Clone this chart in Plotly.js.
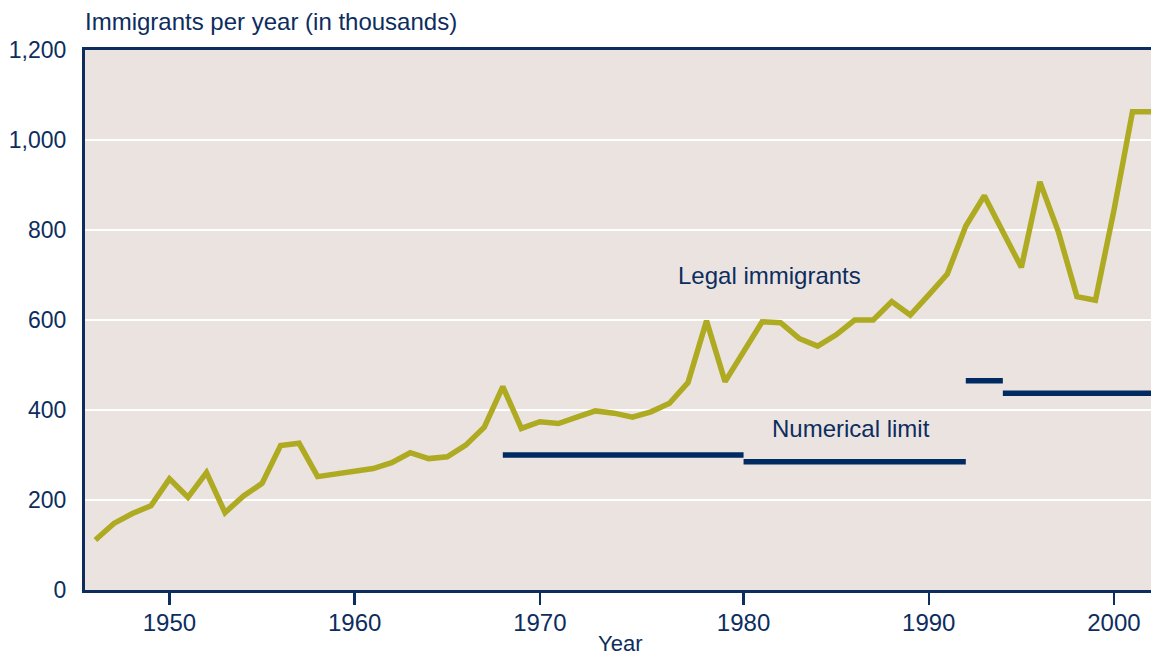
<!DOCTYPE html>
<html>
<head>
<meta charset="utf-8">
<script src="https://cdn.plot.ly/plotly-3.0.1.min.js"></script>
<style>
  html, body { margin: 0; padding: 0; background: #ffffff; }
  #chart { width: 1151px; height: 656px; }
</style>
</head>
<body>
<div id="chart"></div>
<script>
// Year slots along the x axis (the chart has one extra slot between 1976 and 1977)
const years = ["1946","1947","1948","1949","1950","1951","1952","1953","1954","1955",
  "1956","1957","1958","1959","1960","1961","1962","1963","1964","1965",
  "1966","1967","1968","1969","1970","1971","1972","1973","1974","1975",
  "1976","1976TQ","1977","1978","1979","1980","1981","1982","1983","1984",
  "1985","1986","1987","1988","1989","1990","1991","1992","1993","1994",
  "1995","1996","1997","1998","1999","2000","2001","2002"];

// Legal immigrants per year (thousands)
const legalImmigrants = [111,148,170,187,247,206,261,172,209,237,
  321,326,252,259,265,270,283,305,292,296,
  322,362,452,359,374,370,384,398,393,384,
  396,415,461,598,463,530,596,594,559,542,
  567,600,600,641,611,656,702,809,876,796,
  717,907,796,652,644,844,1063,1063];

// Numerical limit periods (thousands)
const limitStart = ["1968","1980","1992","1994"];
const limitEnd   = ["1980","1992","1994","2002"];
const limitValue = [300,285,465,437];

const tickYears = ["1950","1960","1970","1980","1990","2000"];
const yTicks = [0,200,400,600,800,1000,1200];

const navy = "#0c2d5e";
const olive = "#aeaa22";

const traces = [];
for (let i = 0; i < limitStart.length; i++) {
  traces.push({
    type: "scatter", mode: "lines",
    x: [limitStart[i], limitEnd[i]],
    y: [limitValue[i], limitValue[i]],
    line: { color: "#002a62", width: 5.5 },
    hoverinfo: "skip", showlegend: false
  });
}
traces.push({
  type: "scatter", mode: "lines",
  x: years, y: legalImmigrants,
  line: { color: olive, width: 5.5, shape: "linear" },
  hoverinfo: "skip", showlegend: false
});

const font = "Liberation Sans, Arial, sans-serif";

const layout = {
  width: 1151, height: 656,
  margin: { l: 85, r: 0, t: 50, b: 66, pad: 0 },
  paper_bgcolor: "#ffffff",
  plot_bgcolor: "#ebe3e0",
  font: { family: font, color: navy, size: 24 },
  showlegend: false,
  title: {
    text: "Immigrants per year (in thousands)",
    font: { family: font, size: 24, color: navy },
    xref: "paper", x: 0, xanchor: "left",
    yref: "container", y: 1 - 22/656, yanchor: "middle"
  },
  xaxis: {
    type: "category",
    categoryorder: "array", categoryarray: years,
    range: [-0.56, 57],
    tickmode: "array", tickvals: tickYears, ticktext: tickYears,
    ticks: "outside", ticklen: 12, tickwidth: 2.5, tickcolor: navy,
    ticklabelstandoff: -3,
    showline: true, linecolor: navy, linewidth: 3, mirror: true,
    showgrid: false, zeroline: false,
    tickfont: { family: font, size: 24, color: navy },
    fixedrange: true
  },
  yaxis: {
    range: [0, 1200],
    tickmode: "array", tickvals: yTicks,
    tickformat: ",d",
    ticks: "", ticklabelstandoff: 11,
    showline: true, linecolor: navy, linewidth: 3,
    showgrid: true, gridcolor: "#ffffff", gridwidth: 2.5,
    zeroline: false,
    tickfont: { family: font, size: 23, color: navy },
    fixedrange: true
  },
  annotations: [
    { text: "Year", xref: "paper", yref: "paper", x: 0.502, y: -53/540,
      showarrow: false, font: { family: font, size: 22, color: navy },
      xanchor: "center", yanchor: "middle" },
    { text: "Legal immigrants", xref: "x", yref: "y", x: 36.4, y: 700,
      showarrow: false, font: { family: font, size: 24, color: navy },
      xanchor: "center", yanchor: "middle" },
    { text: "Numerical limit", xref: "x", yref: "y", x: 40.8, y: 360,
      showarrow: false, font: { family: font, size: 24, color: navy },
      xanchor: "center", yanchor: "middle" }
  ]
};

Plotly.newPlot("chart", traces, layout, { displayModeBar: false, staticPlot: true });
</script>
</body>
</html>
